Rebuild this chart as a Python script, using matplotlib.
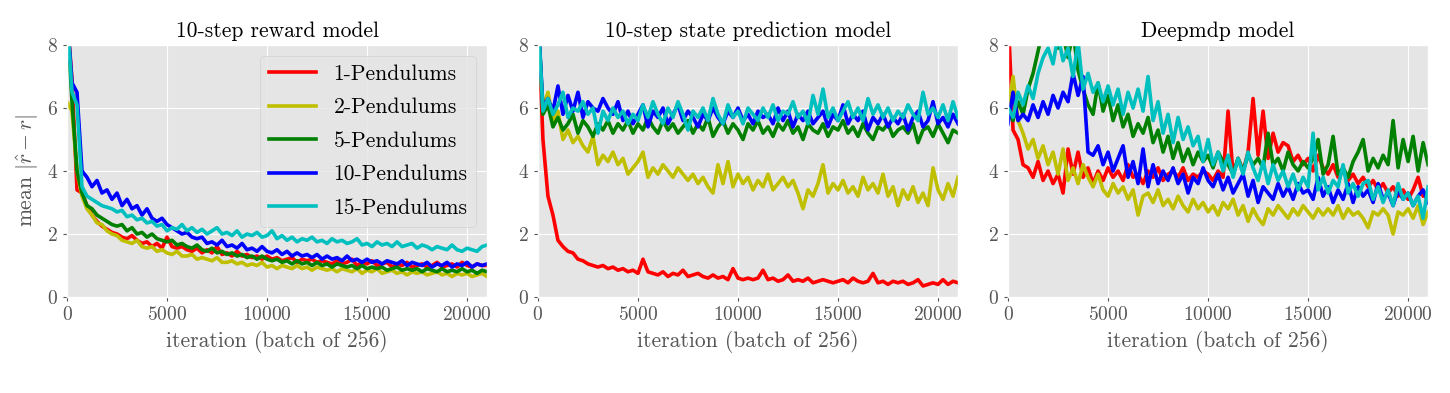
import numpy as np
import matplotlib
matplotlib.use("Agg")
import matplotlib.pyplot as plt

plt.style.use("ggplot")
plt.rcParams["font.family"] = ["cmr10", "DejaVu Serif"]
plt.rcParams["mathtext.fontset"] = "cm"
plt.rcParams["axes.formatter.use_mathtext"] = True

STEP = 250
titles = ["10-step reward model", "10-step state prediction model", "Deepmdp model"]
labels = ["1-Pendulums", "2-Pendulums", "5-Pendulums", "10-Pendulums", "15-Pendulums"]
colors = ["r", "y", "g", "b", "c"]
xlabel = "iteration (batch of 256)"
ylabel = r"mean $|\hat{r}-r|$"
yticks = [0, 2, 4, 6, 8]
xticks = [0, 5000, 10000, 15000, 20000]

# ---- panel 1: 10-step reward model ----
r1_p1 = [9.0, 6.9, 3.4, 3.3, 2.9, 2.6, 2.4, 2.25, 2.15, 2.05, 2.0, 1.9, 1.85, 1.95, 1.8, 1.7,
         1.75, 1.6, 1.7, 1.55, 1.9, 1.6, 1.55, 1.6, 1.5, 1.45, 1.55, 1.4, 1.5, 1.4, 1.6, 1.35,
         1.4, 1.3, 1.45, 1.3, 1.35, 1.25, 1.3, 1.2, 1.3, 1.2, 1.25, 1.15, 1.2, 1.25, 1.1, 1.2,
         1.15, 1.2, 1.1, 1.15, 1.1, 1.05, 1.15, 1.05, 1.1, 1.2, 1.0, 1.1, 1.05, 1.15, 1.0, 1.05,
         1.1, 0.95, 1.05, 1.0, 1.1, 0.95, 1.0, 1.05, 0.95, 1.0, 1.1, 0.95, 1.0, 1.05, 0.95, 1.1,
         1.0, 0.95, 1.05, 1.0, 1.0]
r2_p1 = [6.2, 5.9, 4.0, 3.2, 2.8, 2.6, 2.35, 2.3, 2.1, 2.0, 1.95, 1.8, 1.75, 1.7, 1.8, 1.6,
         1.55, 1.6, 1.45, 1.5, 1.4, 1.35, 1.45, 1.3, 1.3, 1.35, 1.2, 1.25, 1.2, 1.15, 1.25, 1.1,
         1.1, 1.15, 1.05, 1.1, 1.0, 1.05, 1.0, 1.1, 0.95, 1.0, 0.9, 1.0, 0.95, 0.9, 1.0, 0.9,
         0.95, 0.85, 0.95, 0.9, 0.85, 0.9, 0.8, 0.9, 0.85, 0.8, 0.9, 0.75, 0.85, 0.8, 0.9, 0.75,
         0.8, 0.85, 0.75, 0.8, 0.7, 0.8, 0.75, 0.8, 0.7, 0.75, 0.8, 0.7, 0.75, 0.65, 0.75, 0.7,
         0.75, 0.65, 0.7, 0.75, 0.65]
r5_p1 = [9.0, 6.2, 4.0, 3.3, 2.9, 2.8, 2.6, 2.5, 2.4, 2.3, 2.25, 2.3, 2.1, 2.2, 2.0, 2.05,
         1.9, 2.0, 1.85, 1.8, 1.75, 1.8, 1.65, 1.7, 1.6, 1.55, 1.65, 1.5, 1.45, 1.55, 1.4, 1.45,
         1.35, 1.4, 1.3, 1.35, 1.25, 1.3, 1.2, 1.3, 1.2, 1.15, 1.2, 1.1, 1.15, 1.05, 1.15, 1.05,
         1.1, 1.0, 1.1, 1.0, 1.05, 0.95, 1.05, 1.0, 0.95, 1.0, 0.9, 1.0, 0.9, 0.95, 0.9, 0.95,
         0.85, 0.9, 0.95, 0.85, 0.9, 0.85, 0.9, 0.8, 0.9, 0.85, 0.8, 0.9, 0.8, 0.85, 0.8, 0.9,
         0.8, 0.85, 0.75, 0.85, 0.8]
r10_p1 = [9.0, 6.8, 6.5, 4.0, 3.8, 3.5, 3.7, 3.3, 3.4, 3.1, 3.3, 2.9, 3.1, 2.8, 2.9, 2.6,
          2.8, 2.5, 2.4, 2.5, 2.3, 2.2, 2.1, 2.0, 2.05, 1.9, 1.85, 1.9, 1.7, 1.75, 1.65, 1.8,
          1.6, 1.65, 1.55, 1.7, 1.5, 1.55, 1.45, 1.6, 1.45, 1.4, 1.5, 1.35, 1.45, 1.3, 1.4, 1.3,
          1.35, 1.25, 1.35, 1.2, 1.3, 1.2, 1.25, 1.15, 1.3, 1.15, 1.2, 1.1, 1.2, 1.1, 1.15, 1.05,
          1.15, 1.1, 1.05, 1.15, 1.0, 1.1, 1.05, 1.0, 1.1, 0.95, 1.05, 1.0, 1.1, 0.95, 1.05, 1.0,
          1.1, 0.95, 1.05, 1.0, 1.05]
r15_p1 = [9.0, 6.5, 6.1, 3.5, 3.2, 3.1, 3.0, 2.9, 2.85, 2.8, 2.7, 2.75, 2.55, 2.6, 2.45, 2.5,
          2.35, 2.4, 2.25, 2.3, 2.1, 2.2, 2.15, 2.3, 2.1, 2.2, 2.05, 2.15, 2.0, 2.1, 2.2, 2.0,
          2.05, 1.95, 2.1, 1.9, 2.0, 1.95, 2.05, 1.9, 1.95, 2.1, 1.85, 1.95, 1.8, 1.9, 1.75, 1.85,
          1.8, 1.9, 1.75, 1.8, 1.7, 1.85, 1.75, 1.8, 1.7, 1.75, 1.85, 1.65, 1.7, 1.6, 1.75, 1.65,
          1.7, 1.6, 1.75, 1.6, 1.65, 1.7, 1.55, 1.65, 1.6, 1.5, 1.6, 1.55, 1.5, 1.65, 1.5, 1.45,
          1.55, 1.5, 1.45, 1.6, 1.65]

# ---- panel 2: 10-step state prediction model ----
r1_p2 = [9.0, 5.0, 3.2, 2.6, 1.8, 1.6, 1.45, 1.4, 1.2, 1.15, 1.05, 1.0, 0.95, 1.0, 0.9, 0.95,
         0.85, 0.9, 0.8, 0.85, 0.75, 1.2, 0.8, 0.75, 0.7, 0.8, 0.65, 0.75, 0.7, 0.85, 0.65, 0.7,
         0.75, 0.65, 0.6, 0.7, 0.6, 0.65, 0.55, 0.9, 0.6, 0.55, 0.6, 0.55, 0.6, 0.85, 0.55, 0.6,
         0.5, 0.55, 0.7, 0.5, 0.55, 0.5, 0.6, 0.45, 0.5, 0.55, 0.5, 0.45, 0.5, 0.55, 0.45, 0.6,
         0.5, 0.45, 0.5, 0.75, 0.45, 0.5, 0.4, 0.5, 0.45, 0.5, 0.4, 0.45, 0.55, 0.35, 0.4, 0.45,
         0.4, 0.55, 0.4, 0.5, 0.45]
r2_p2 = [8.5, 6.0, 6.5, 5.6, 5.9, 5.0, 5.3, 4.9, 5.1, 4.8, 4.6, 5.1, 4.2, 4.5, 4.3, 4.6,
         4.2, 4.4, 3.9, 4.1, 4.3, 4.6, 3.8, 4.1, 3.9, 4.2, 4.0, 3.8, 4.1, 3.9, 3.7, 3.9,
         3.6, 3.8, 3.5, 3.3, 4.2, 3.6, 4.3, 3.5, 3.9, 3.6, 3.8, 3.4, 3.7, 3.5, 3.9, 3.4,
         3.6, 3.8, 3.5, 3.7, 3.3, 2.8, 3.4, 3.2, 3.6, 4.2, 3.3, 3.6, 3.4, 3.7, 3.3, 3.5,
         3.2, 3.8, 3.4, 3.6, 3.3, 3.9, 3.2, 3.5, 2.9, 3.4, 3.1, 3.5, 3.0, 3.3, 2.9, 4.1,
         3.4, 3.1, 3.6, 3.2, 3.8]
r5_p2 = [9.0, 5.8, 6.1, 5.4, 5.7, 5.3, 5.5, 5.8, 5.2, 5.6, 5.4, 5.1, 5.5, 5.3, 5.6, 5.2,
         5.5, 5.3, 5.6, 5.2, 5.5, 5.3, 5.7, 5.4, 5.2, 5.6, 5.3, 5.5, 5.2, 5.4, 5.6, 5.2,
         5.5, 5.3, 5.7, 5.1, 5.4, 5.6, 5.2, 5.5, 5.3, 5.0, 5.5, 5.3, 5.6, 5.2, 5.4, 5.1,
         5.5, 5.3, 5.6, 5.2, 5.4, 5.0, 5.5, 5.3, 5.2, 5.5, 5.1, 5.4, 5.3, 5.6, 5.2, 5.4,
         5.1, 5.5, 5.2, 5.0, 5.4, 5.3, 5.5, 5.1, 5.3, 5.4, 5.2, 5.5, 4.9, 5.3, 5.4, 5.1,
         5.5, 5.2, 4.9, 5.3, 5.2]
r10_p2 = [9.0, 6.0, 6.3, 5.9, 6.7, 5.8, 6.4, 5.9, 6.5, 5.7, 6.2, 6.0, 5.9, 6.3, 6.0, 5.8,
          6.2, 5.6, 5.9, 5.5, 5.8, 6.1, 5.4, 5.9, 5.7, 6.0, 5.5, 5.8, 6.1, 5.6, 5.9, 5.7,
          5.4, 5.8, 5.6, 6.0, 5.7, 5.5, 5.9, 5.7, 6.0, 5.6, 5.8, 5.5, 5.9, 5.7, 5.8, 5.5,
          6.0, 5.6, 5.9, 5.4, 5.8, 5.6, 5.9, 5.5, 5.7, 5.9, 5.4, 5.8, 5.6, 6.1, 5.5, 5.8,
          5.6, 5.9, 5.3, 5.7, 5.5, 5.8, 5.4, 5.7, 5.5, 5.8, 5.3, 5.7, 5.9, 5.4, 5.6, 6.2,
          5.5, 5.7, 5.4, 5.8, 5.5]
r15_p2 = [9.0, 5.9, 6.3, 5.8, 6.1, 6.5, 5.7, 6.0, 5.9, 6.2, 5.8, 6.0, 5.2, 5.9, 5.6, 6.0,
          5.7, 5.9, 5.5, 5.8, 5.6, 6.1, 5.7, 6.2, 5.8, 5.5, 6.0, 5.7, 6.2, 5.8, 5.3, 5.9,
          5.7, 6.0, 5.6, 6.3, 5.8, 5.5, 6.1, 5.7, 5.9, 5.5, 6.0, 5.8, 5.6, 6.0, 5.7, 6.1,
          5.6, 5.9, 5.8, 6.2, 5.7, 5.9, 5.5, 6.4, 5.8, 6.6, 5.7, 6.0, 5.6, 5.9, 6.2, 5.7,
          6.0, 5.6, 6.3, 5.8, 6.1, 5.7, 6.0, 5.6, 5.9, 5.7, 6.1, 5.8, 5.6, 6.5, 5.8, 6.0,
          5.7, 6.1, 5.6, 6.2, 5.7]

# ---- panel 3: Deepmdp model ----
r1_p3 = [9.0, 5.3, 5.0, 4.2, 4.1, 3.8, 4.3, 3.7, 4.0, 3.6, 3.9, 3.3, 4.7, 3.9, 4.6, 3.8,
         4.1, 3.6, 4.0, 3.7, 4.1, 3.8, 4.0, 3.7, 4.2, 3.8, 3.9, 3.6, 4.0, 3.8, 4.1, 3.7,
         3.9, 4.0, 3.8, 4.1, 3.7, 3.9, 3.8, 4.0, 3.9, 3.7, 4.0, 3.8, 5.9, 3.9, 4.4, 4.0,
         4.6, 6.3, 4.5, 5.9, 4.4, 5.2, 4.6, 4.9, 4.8, 4.3, 4.5, 4.2, 4.4, 4.0, 4.5, 4.1,
         3.9, 4.2, 3.8, 4.0, 3.7, 3.9, 3.6, 3.8, 3.5, 3.7, 3.4, 3.6, 3.3, 3.5, 3.2, 3.4,
         3.1, 3.4, 3.8, 3.2, 3.3]
r2_p3 = [6.0, 7.0, 5.6, 5.2, 4.7, 5.0, 4.4, 4.8, 4.2, 4.6, 3.9, 4.7, 3.7, 4.1, 3.6, 4.2,
         3.8, 3.5, 3.9, 3.4, 3.2, 3.6, 3.3, 3.5, 3.1, 3.4, 2.6, 3.2, 3.3, 3.0, 3.4, 2.9,
         3.1, 2.8, 3.2, 2.9, 2.7, 3.1, 2.8, 3.0, 2.7, 2.9, 2.6, 3.0, 2.8, 3.1, 2.6, 2.9,
         2.4, 2.8, 2.5, 2.3, 2.8, 2.6, 2.9, 2.7, 2.5, 2.8, 2.6, 2.9, 2.7, 2.5, 2.8, 2.6,
         2.8, 2.6, 2.9, 2.5, 2.8, 2.6, 2.7, 2.5, 2.2, 2.7, 2.6, 2.8, 2.6, 2.0, 2.7, 2.6,
         2.8, 2.5, 2.9, 2.3, 2.7]
r5_p3 = [6.0, 5.6, 6.2, 5.8, 6.6, 7.1, 7.8, 8.5, 8.2, 8.6, 7.9, 8.3, 7.6, 8.4, 7.2, 6.6,
         6.1, 5.8, 6.8, 5.9, 6.4, 5.6, 6.1, 5.4, 5.8, 5.1, 5.5, 5.2, 5.7, 4.9, 5.3, 4.6,
         5.1, 4.4, 4.9, 4.3, 4.7, 4.2, 4.6, 4.3, 4.5, 4.1, 4.6, 4.3, 4.2, 3.9, 4.4, 4.0,
         4.5, 4.2, 4.4, 4.1, 5.2, 4.2, 4.4, 4.0, 4.6, 4.2, 4.0, 4.3, 4.1, 4.4, 5.0, 3.9,
         4.2, 5.1, 3.9, 4.1, 3.8, 4.3, 4.6, 5.0, 4.0, 4.4, 4.1, 4.5, 4.2, 5.6, 4.1, 5.0,
         4.3, 5.1, 4.0, 4.9, 4.2]
r10_p3 = [5.5, 6.5, 5.6, 5.8, 5.6, 6.1, 5.7, 6.2, 5.8, 6.4, 6.0, 6.5, 6.2, 7.1, 6.4, 7.0,
          4.6, 4.5, 4.8, 4.2, 4.6, 4.0, 4.4, 4.8, 3.8, 4.3, 3.6, 4.7, 3.5, 4.2, 3.6, 4.0,
          3.7, 4.1, 3.6, 3.9, 3.3, 3.8, 3.6, 4.1, 3.7, 3.5, 3.9, 3.4, 3.8, 3.3, 3.6, 3.9,
          3.2, 3.7, 3.0, 3.5, 3.3, 3.1, 3.6, 3.2, 3.5, 3.1, 3.6, 3.3, 3.4, 3.1, 3.8, 3.2,
          3.5, 3.0, 3.4, 3.1, 3.6, 3.0, 3.5, 3.2, 3.4, 3.0, 3.6, 3.1, 3.3, 2.9, 3.4, 3.1,
          3.3, 2.9, 3.2, 3.4, 3.0]
r15_p3 = [6.0, 5.7, 6.5, 6.1, 6.7, 6.3, 7.1, 7.6, 7.9, 7.4, 8.3, 7.5, 7.9, 7.0, 8.1, 6.6,
          7.1, 6.5, 6.8, 6.2, 6.7, 6.1, 6.6, 5.8, 6.5, 6.0, 6.6, 5.9, 7.0, 5.6, 6.2, 5.2,
          5.8, 4.9, 5.7, 5.0, 5.4, 4.8, 5.1, 4.3, 5.0, 4.2, 4.6, 4.0, 4.5, 3.8, 4.4, 3.9,
          4.6, 4.1, 3.7, 4.3, 3.6, 4.2, 3.7, 4.0, 3.5, 3.9, 3.4, 3.8, 3.5, 5.2, 3.4, 3.8,
          3.3, 3.7, 3.5, 4.2, 3.3, 3.6, 3.2, 3.6, 3.7, 3.1, 3.5, 3.0, 3.4, 2.9, 3.6, 3.1,
          3.3, 2.9, 3.2, 2.5, 3.5]

panels = [
    [r1_p1, r2_p1, r5_p1, r10_p1, r15_p1],
    [r1_p2, r2_p2, r5_p2, r10_p2, r15_p2],
    [r1_p3, r2_p3, r5_p3, r10_p3, r15_p3],
]

fig = plt.figure(figsize=(14.5, 3.93), dpi=100)
lefts = [0.0462, 0.3710, 0.6952]
W, B, H = 0.2897, 0.2443, 0.6412

for k, series in enumerate(panels):
    ax = fig.add_axes([lefts[k], B, W, H])
    for vals, c, lab in zip(series, colors, labels):
        x = np.arange(len(vals)) * STEP
        ax.plot(x, vals, color=c, lw=2.6, label=lab)
    ax.set_xlim(0, 21000)
    ax.set_ylim(0, 8)
    ax.set_xticks(xticks)
    ax.set_yticks(yticks)
    ax.tick_params(labelsize=14, colors="#555555", length=3)
    ax.set_title(titles[k], fontsize=15.5, color="black", pad=6)
    ax.set_xlabel(xlabel, fontsize=15.5, color="#555555")
    if k == 0:
        ax.set_ylabel(ylabel, fontsize=15.5, color="#555555")
        ax.legend(loc="upper right", fontsize=15.5, handlelength=2.2,
                  labelspacing=0.65, borderaxespad=0.5)

fig.savefig("out.png", dpi=100)
